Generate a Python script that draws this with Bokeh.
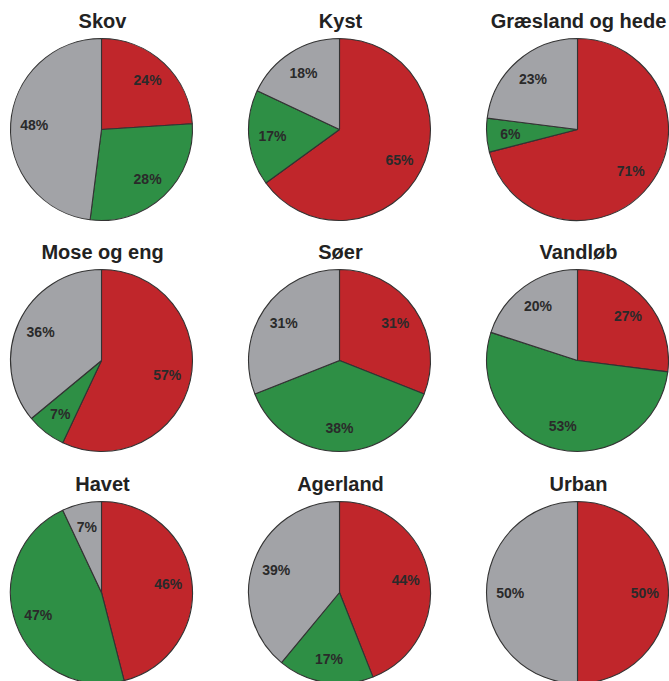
import math
from bokeh.plotting import figure
from bokeh.models import ColumnDataSource, Range1d
from bokeh.core.properties import value
from bokeh.embed import file_html
from bokeh.resources import INLINE

# Share of each habitat type (percent): red, green, grey slices
titles = ["Skov", "Kyst", "Græsland og hede",
          "Mose og eng", "Søer", "Vandløb",
          "Havet", "Agerland", "Urban"]
red_pct = [24, 65, 71, 57, 31, 27, 46, 44, 50]
green_pct = [28, 17, 6, 7, 38, 53, 47, 17, 0]
grey_pct = [48, 18, 23, 36, 31, 20, 7, 39, 50]

slice_colors = ["#C0262B", "#2E8F45", "#A2A3A7"]

W, H = 669, 681
col_x = [101, 339, 577]
row_y = [129, 360, 592]
R = 91
LABEL_FRAC = 0.74

p = figure(width=W, height=H, x_range=Range1d(0, W), y_range=Range1d(0, H),
           x_axis_type=None, y_axis_type=None, toolbar_location=None,
           output_backend="svg", min_border=0)
p.grid.visible = False
p.outline_line_color = None
p.background_fill_color = "white"
p.border_fill_color = "white"

wx, wy, ws, we, wc = [], [], [], [], []
lx, ly, lt = [], [], []
tx, ty, tt = [], [], []

for i, name in enumerate(titles):
    cx = col_x[i % 3]
    cy = H - row_y[i // 3]
    shares = [red_pct[i], green_pct[i], grey_pct[i]]
    total = float(sum(shares))
    cum = 0.0
    for share, color in zip(shares, slice_colors):
        if share <= 0:
            continue
        a0 = math.pi / 2 - 2 * math.pi * cum / total
        a1 = math.pi / 2 - 2 * math.pi * (cum + share) / total
        wx.append(cx); wy.append(cy); ws.append(a0); we.append(a1); wc.append(color)
        mid = (a0 + a1) / 2
        lx.append(cx + LABEL_FRAC * R * math.cos(mid))
        ly.append(cy + LABEL_FRAC * R * math.sin(mid))
        lt.append(f"{share}%")
        cum += share
    tx.append(cx + 1)
    ty.append(cy + R + 18)
    tt.append(name)

wedges = ColumnDataSource(dict(x=wx, y=wy, start=ws, end=we, color=wc))
p.wedge(x="x", y="y", radius=R, start_angle="start", end_angle="end",
        direction="clock", fill_color="color", line_color="#333333",
        line_width=1.1, source=wedges)

labels = ColumnDataSource(dict(x=lx, y=ly, text=lt))
p.text(x="x", y="y", text="text", source=labels,
       text_font=value("Liberation Sans"), text_font_style="bold",
       text_font_size="14px", text_color="#2A2A2A",
       text_align="center", text_baseline="middle")

heads = ColumnDataSource(dict(x=tx, y=ty, text=tt))
p.text(x="x", y="y", text="text", source=heads,
       text_font=value("Liberation Sans"), text_font_style="bold",
       text_font_size="20px", text_color="#222222",
       text_align="center", text_baseline="alphabetic")

open("out.html", "w").write(file_html(p, INLINE))
